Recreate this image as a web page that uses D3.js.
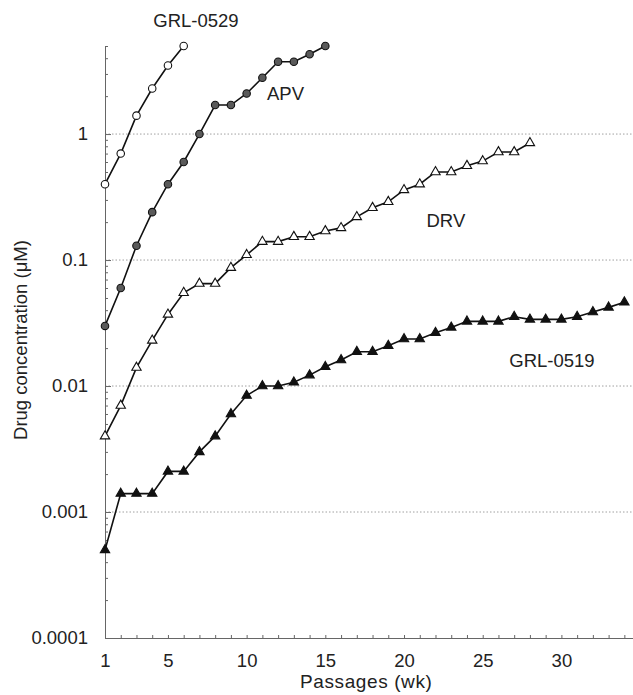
<!DOCTYPE html>
<html>
<head>
<meta charset="utf-8">
<script src="https://cdn.jsdelivr.net/npm/d3@7"></script>
<style>
  html, body { margin: 0; padding: 0; background: #fff; }
  svg { display: block; font-family: "Liberation Sans", Arial, Helvetica, sans-serif; }
</style>
</head>
<body>
<svg id="chart" width="633" height="695"></svg>
<script>
// Drug concentration (µM) reached at each weekly passage, passage 1 first.
const grl0529 = [0.4, 0.7, 1.4, 2.3, 3.5, 5];
const apv = [0.03, 0.06, 0.13, 0.24, 0.4, 0.6, 1, 1.7, 1.7, 2.1, 2.8, 3.75, 3.75, 4.3, 5];
const drv = [0.004, 0.007, 0.014, 0.023, 0.037, 0.055, 0.065, 0.065, 0.087, 0.11,
             0.14, 0.14, 0.153, 0.153, 0.17, 0.18, 0.22, 0.26, 0.29, 0.36,
             0.4, 0.5, 0.5, 0.56, 0.61, 0.72, 0.72, 0.85];
const grl0519 = [0.0005, 0.0014, 0.0014, 0.0014, 0.0021, 0.0021, 0.003, 0.004, 0.006, 0.0084,
                 0.01, 0.01, 0.0107, 0.0122, 0.0142, 0.0161, 0.0187, 0.0187, 0.0209, 0.0236,
                 0.0236, 0.0265, 0.0292, 0.0326, 0.0326, 0.0326, 0.0355, 0.0338, 0.0338, 0.0338,
                 0.0355, 0.0387, 0.0421, 0.0462];

const xTickLabels = [1, 5, 10, 15, 20, 25, 30];
const yTickLabels = [1, 0.1, 0.01, 0.001, 0.0001];
const yTickText = ["1", "0.1", "0.01", "0.001", "0.0001"];

const svg = d3.select("#chart");
const plotLeft = 105, plotRight = 633, plotTop = 46, plotBottom = 638;

const x = d3.scaleLinear().domain([1, 34.55]).range([plotLeft, plotRight]);
const y = d3.scaleLog().domain([0.0001, 5]).range([plotBottom, plotTop]);

// dotted gridlines at each decade
svg.append("g")
  .selectAll("line")
  .data(yTickLabels.filter(v => v > 0.0001))
  .join("line")
  .attr("x1", plotLeft).attr("x2", plotRight)
  .attr("y1", d => y(d)).attr("y2", d => y(d))
  .attr("stroke", "#a0a0a0")
  .attr("stroke-width", 1)
  .attr("stroke-dasharray", "1.5,2");

// y axis: labelled decades plus inward minor ticks
const minorY = [];
for (let e = -4; e <= 0; e++) {
  for (let m = 2; m <= 9; m++) {
    const v = m * Math.pow(10, e);
    if (v <= 5) minorY.push(v);
  }
}
const yAxis = svg.append("g")
  .attr("transform", `translate(${plotLeft},0)`)
  .call(d3.axisLeft(y)
    .tickValues(yTickLabels)
    .tickFormat((d, i) => yTickText[i])
    .tickSize(-6)
    .tickSizeOuter(0)
    .tickPadding(17));
svg.append("g")
  .attr("transform", `translate(${plotLeft},0)`)
  .call(d3.axisLeft(y).tickValues(minorY).tickFormat("").tickSize(-3).tickSizeOuter(0))
  .call(g => g.select(".domain").remove())
  .call(g => g.selectAll(".tick line").attr("stroke", "#666"));

// x axis: a tick at every passage, numbers at every fifth
const xTicks = [];
for (let i = 1; i <= 34; i++) xTicks.push(i);
const xAxis = svg.append("g")
  .attr("transform", `translate(0,${plotBottom})`)
  .call(d3.axisBottom(x)
    .tickValues(xTicks)
    .tickFormat(d => xTickLabels.includes(d) ? String(d) : "")
    .tickSize(-3)
    .tickSizeOuter(0)
    .tickPadding(16));

[yAxis, xAxis].forEach(g => {
  g.select(".domain").attr("stroke", "#666").attr("stroke-width", 1);
  g.selectAll(".tick line").attr("stroke", "#666");
  g.selectAll(".tick text").attr("fill", "#222").style("font-size", "18.5px")
    .style("font-family", '"Liberation Sans", Arial, sans-serif');
});

// axis titles
svg.append("text")
  .attr("x", x(17.6)).attr("y", 688)
  .attr("text-anchor", "middle")
  .attr("fill", "#222")
  .style("font-size", "19px")
  .style("letter-spacing", "0.6px")
  .text("Passages (wk)");
svg.append("text")
  .attr("transform", `translate(27,${(y(0.1) + y(0.001)) / 2 - 46}) rotate(-90)`)
  .attr("text-anchor", "middle")
  .attr("fill", "#222")
  .style("font-size", "18.5px")
  .text("Drug concentration (\u03bcM)");

// series
const line = d3.line().x((d, i) => x(i + 1)).y(d => y(d));
const series = [
  { name: "GRL-0529", values: grl0529, shape: d3.symbolCircle, fill: "#fff", size: 44, lx: 6.78, ly: 7.07 },
  { name: "APV", values: apv, shape: d3.symbolCircle, fill: "#5a5a5a", size: 44, lx: 12.47, ly: 1.86 },
  { name: "DRV", values: drv, shape: d3.symbolTriangle, fill: "#fff", size: 38, lx: 22.66, ly: 0.184 },
  { name: "GRL-0519", values: grl0519, shape: d3.symbolTriangle, fill: "#111", size: 38, lx: 29.4, ly: 0.01415 }
];

series.forEach(s => {
  const g = svg.append("g");
  g.append("path")
    .datum(s.values)
    .attr("d", line)
    .attr("fill", "none")
    .attr("stroke", "#111")
    .attr("stroke-width", 1.6);
  g.selectAll("path.mark")
    .data(s.values)
    .join("path")
    .attr("class", "mark")
    .attr("transform", (d, i) => `translate(${x(i + 1)},${y(d)})`)
    .attr("d", d3.symbol().type(s.shape).size(s.size))
    .attr("fill", s.fill)
    .attr("stroke", "#111")
    .attr("stroke-width", 1.1);
  svg.append("text")
    .attr("x", x(s.lx)).attr("y", y(s.ly))
    .attr("text-anchor", "middle")
    .attr("fill", "#222")
    .style("font-size", "18.5px")
    .text(s.name);
});
</script>
</body>
</html>
